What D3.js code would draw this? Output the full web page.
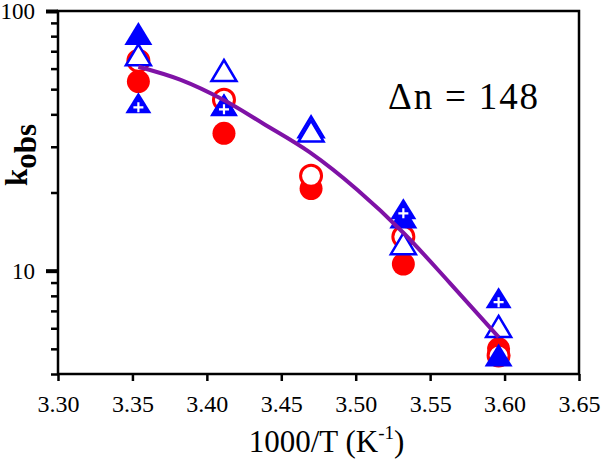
<!DOCTYPE html>
<html>
<head>
<meta charset="utf-8">
<script src="https://cdn.jsdelivr.net/npm/d3@7"></script>
<style>
  html, body { margin: 0; padding: 0; background: #fff; }
  svg { display: block; }
</style>
</head>
<body>
<svg id="chart" width="601" height="463"></svg>
<script>
// ---- data ----
const xValues = [3.354, 3.4115, 3.470, 3.532, 3.596];
const filledCircle = [53.5, 33.8, 20.7, 10.6, 5.0];
const openCircle = [64.3, 45.5, 23.2, 13.5, 4.71];
const filledTriangle = [82.0, 43.5, null, 16.1, 4.73];
const plusTriangle = [44.3, 43.5, null, 17.3, 7.87];
const openTriangle = [67.8, 59.0, 35.8, 12.7, 6.1];
const openTriangle2 = [null, null, 34.5, null, null];
const curveX = [3.354, 3.382, 3.411, 3.438, 3.469, 3.501, 3.532, 3.563, 3.596];
const curveY = [61.0, 54.4, 45.5, 36.8, 28.6, 20.5, 14.0, 9.0, 5.55];
const xTicks = [3.30, 3.35, 3.40, 3.45, 3.50, 3.55, 3.60, 3.65];
const yMajorTicks = [10, 100];
const yMinorTicks = [4, 5, 6, 7, 8, 9, 20, 30, 40, 50, 60, 70, 80, 90];
const xTitle = "1000/T (K";
const annotation = "\u0394n = 148";

const SERIF = "Liberation Serif";

// ---- layout ----
const L = 58, R = 579, T = 11, B = 374;
const svg = d3.select("#chart");
svg.append("rect").attr("width", 601).attr("height", 463).attr("fill", "#fff");

const x = d3.scaleLinear().domain([3.30, 3.65]).range([L, R]);
const y = d3.scaleLog().domain([4, 100]).range([B, T]);

const RED = "#ff0000", BLUE = "#0000ff", PURPLE = "#7f12a6";

// ---- axes ----
const xAxis = svg.append("g").attr("transform", `translate(0,${B})`)
  .call(d3.axisBottom(x).tickValues(xTicks).tickFormat(d3.format(".2f"))
    .tickSize(7).tickSizeOuter(0).tickPadding(14));
xAxis.attr("font-family", SERIF).attr("font-size", 24);
xAxis.select(".domain").remove();
xAxis.selectAll("line").attr("stroke", "#000").attr("stroke-width", 2.5);
xAxis.selectAll("text").style("font-family", SERIF).attr("font-size", 24).attr("fill", "#000");

const yMinor = svg.append("g").attr("transform", `translate(${L},0)`)
  .call(d3.axisLeft(y).tickValues(yMinorTicks).tickFormat("").tickSize(7).tickSizeOuter(0));
yMinor.select(".domain").remove();
yMinor.selectAll("line").attr("stroke", "#000").attr("stroke-width", 2.5);

const yMajor = svg.append("g").attr("transform", `translate(${L},0)`)
  .call(d3.axisLeft(y).tickValues(yMajorTicks).tickFormat(d3.format("d"))
    .tickSize(12).tickSizeOuter(0).tickPadding(11));
yMajor.attr("font-family", SERIF).attr("font-size", 23);
yMajor.select(".domain").remove();
yMajor.selectAll("line").attr("stroke", "#000").attr("stroke-width", 4);
yMajor.selectAll("text").style("font-family", SERIF).attr("font-size", 23).attr("fill", "#000");

// frame
svg.append("rect").attr("x", L).attr("y", T).attr("width", R - L).attr("height", B - T)
  .attr("fill", "none").attr("stroke", "#000").attr("stroke-width", 2.5);

// ---- markers ----
const plot = svg.append("g");
function pts(vals) {
  return xValues.map((xv, i) => ({ x: xv, v: vals[i] })).filter(d => d.v != null);
}
const triPath = (w, h) => `M0,${-h / 2}L${w / 2},${h / 2}L${-w / 2},${h / 2}Z`;

// filled circles
plot.append("g").selectAll("circle").data(pts(filledCircle)).join("circle")
  .attr("cx", d => x(d.x)).attr("cy", d => y(d.v)).attr("r", 11.5).attr("fill", RED);
// open circles
plot.append("g").selectAll("circle").data(pts(openCircle)).join("circle")
  .attr("cx", d => x(d.x)).attr("cy", d => y(d.v)).attr("r", 10.5)
  .attr("fill", "#fff").attr("stroke", RED).attr("stroke-width", 3);
// filled triangles
plot.append("g").selectAll("path").data(pts(filledTriangle)).join("path")
  .attr("transform", d => `translate(${x(d.x)},${y(d.v)})`)
  .attr("d", triPath(28, 23)).attr("fill", BLUE);
// filled triangles with plus
const pg = plot.append("g").selectAll("g").data(pts(plusTriangle)).join("g")
  .attr("transform", d => `translate(${x(d.x)},${y(d.v)})`);
pg.append("path").attr("d", triPath(26, 21)).attr("fill", BLUE);
pg.append("path").attr("d", "M-5,4.5H5M0,-0.5V9.5").attr("stroke", "#fff").attr("stroke-width", 2.2);
// open triangles
[openTriangle, openTriangle2].forEach(s => {
  plot.append("g").selectAll("path").data(pts(s)).join("path")
    .attr("transform", d => `translate(${x(d.x)},${y(d.v)})`)
    .attr("d", triPath(25, 21)).attr("fill", "#fff")
    .attr("stroke", BLUE).attr("stroke-width", 2.5).attr("stroke-linejoin", "miter");
});

// ---- fitted curve ----
const line = d3.line().x(d => x(d[0])).y(d => y(d[1])).curve(d3.curveMonotoneX);
svg.append("path").datum(curveX.map((cx, i) => [cx, curveY[i]]))
  .attr("d", line).attr("fill", "none").attr("stroke", PURPLE).attr("stroke-width", 4);

// ---- texts ----
svg.append("text").attr("x", 388).attr("y", 109).attr("font-size", 37)
  .style("font-family", SERIF).attr("fill", "#000")
  .attr("textLength", 150).attr("lengthAdjust", "spacing").text(annotation);

const xt = svg.append("text").attr("x", (L + R) / 2 + 8).attr("y", 452)
  .attr("text-anchor", "middle").attr("font-size", 31).style("font-family", SERIF).attr("fill", "#000");
xt.append("tspan").text(xTitle);
xt.append("tspan").attr("font-size", 19).attr("dy", -13).text("-1");
xt.append("tspan").attr("dy", 13).text(")");

const yt = svg.append("text").attr("transform", "translate(27,155) rotate(-90)")
  .attr("text-anchor", "middle").attr("font-size", 31).attr("font-weight", "bold")
  .style("font-family", SERIF).attr("fill", "#000");
yt.append("tspan").text("k");
yt.append("tspan").attr("dy", 9).text("obs");
</script>
</body>
</html>
